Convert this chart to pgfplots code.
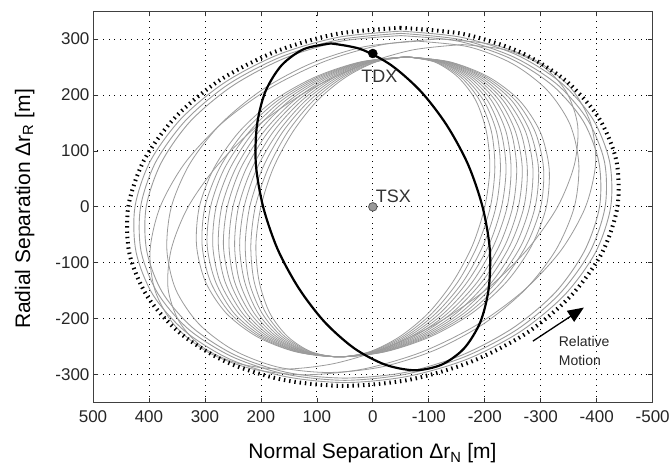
\documentclass[border=0pt]{standalone}
\usepackage{fontspec}
\setmainfont{Liberation Sans}
\usepackage{pgfplots}
\pgfplotsset{compat=1.18}
\usetikzlibrary{arrows.meta}
\definecolor{orbgray}{RGB}{155,155,155}
\begin{document}
\begin{tikzpicture}
\useasboundingbox (0,0) rectangle (669pt,468pt);
\begin{axis}[
  at={(93pt,65.3pt)}, anchor=south west,
  scale only axis, width=559.7pt, height=391.7pt,
  x dir=reverse,
  xmin=-500, xmax=500, ymin=-350, ymax=350,
  xtick={-500,-400,...,500}, ytick={-300,-200,...,300},
  grid=major,
  major grid style={black, line width=0.8pt, dash pattern=on 0.9pt off 4.7pt},
  tick align=inside, major tick length=5pt,
  tick style={black!80, line width=0.7pt},
  axis line style={black!75, line width=0.9pt},
  /pgf/number format/assume math mode=true,
  tick label style={font=\fontsize{17}{17}\selectfont, text=black!85},
  xticklabel style={yshift=-4pt},
]
% inner orbits (relative inclination drifting)
\addplot[orbgray, line width=0.8pt, smooth] coordinates {(-60,268)(-6,259)(48,232)(99,190)(143,134)(178,69)(200,0)(209,-69)(203,-134)(184,-190)(152,-232)(110,-259)(60,-268)(6,-259)(-48,-232)(-99,-190)(-143,-134)(-178,-69)(-200,0)(-209,69)(-203,134)(-184,190)(-152,232)(-110,259)(-60,268)};
\addplot[orbgray, line width=0.8pt, smooth] coordinates {(-60,268)(-4,259)(53,232)(106,190)(152,134)(187,69)(210,0)(218,-69)(212,-134)(191,-190)(157,-232)(112,-259)(60,-268)(4,-259)(-53,-232)(-106,-190)(-152,-134)(-187,-69)(-210,0)(-218,69)(-212,134)(-191,190)(-157,232)(-112,259)(-60,268)};
\addplot[orbgray, line width=0.8pt, smooth] coordinates {(-60,268)(-1,259)(58,232)(113,190)(161,134)(197,69)(220,0)(228,-69)(221,-134)(198,-190)(162,-232)(115,-259)(60,-268)(1,-259)(-58,-232)(-113,-190)(-161,-134)(-197,-69)(-220,0)(-228,69)(-221,134)(-198,190)(-162,232)(-115,259)(-60,268)};
\addplot[orbgray, line width=0.8pt, smooth] coordinates {(-60,268)(2,259)(63,232)(120,190)(169,134)(207,69)(230,0)(238,-69)(229,-134)(205,-190)(167,-232)(118,-259)(60,-268)(-2,-259)(-63,-232)(-120,-190)(-169,-134)(-207,-69)(-230,0)(-238,69)(-229,134)(-205,190)(-167,232)(-118,259)(-60,268)};
\addplot[orbgray, line width=0.8pt, smooth] coordinates {(-60,268)(4,259)(68,232)(127,190)(178,134)(216,69)(240,0)(247,-69)(238,-134)(212,-190)(172,-232)(120,-259)(60,-268)(-4,-259)(-68,-232)(-127,-190)(-178,-134)(-216,-69)(-240,0)(-247,69)(-238,134)(-212,190)(-172,232)(-120,259)(-60,268)};
\addplot[orbgray, line width=0.8pt, smooth] coordinates {(-60,268)(7,259)(73,232)(134,190)(187,134)(226,69)(250,0)(257,-69)(247,-134)(219,-190)(177,-232)(123,-259)(60,-268)(-7,-259)(-73,-232)(-134,-190)(-187,-134)(-226,-69)(-250,0)(-257,69)(-247,134)(-219,190)(-177,232)(-123,259)(-60,268)};
\addplot[orbgray, line width=0.8pt, smooth] coordinates {(-60,268)(9,259)(78,232)(141,190)(195,134)(236,69)(260,0)(267,-69)(255,-134)(226,-190)(182,-232)(125,-259)(60,-268)(-9,-259)(-78,-232)(-141,-190)(-195,-134)(-236,-69)(-260,0)(-267,69)(-255,134)(-226,190)(-182,232)(-125,259)(-60,268)};
\addplot[orbgray, line width=0.8pt, smooth] coordinates {(-60,268)(12,259)(83,232)(149,190)(204,134)(245,69)(270,0)(276,-69)(264,-134)(233,-190)(187,-232)(128,-259)(60,-268)(-12,-259)(-83,-232)(-149,-190)(-204,-134)(-245,-69)(-270,0)(-276,69)(-264,134)(-233,190)(-187,232)(-128,259)(-60,268)};
\addplot[orbgray, line width=0.8pt, smooth] coordinates {(-60,268)(15,259)(88,232)(156,190)(213,134)(255,69)(280,0)(286,-69)(273,-134)(240,-190)(192,-232)(131,-259)(60,-268)(-15,-259)(-88,-232)(-156,-190)(-213,-134)(-255,-69)(-280,0)(-286,69)(-273,134)(-240,190)(-192,232)(-131,259)(-60,268)};
\addplot[orbgray, line width=0.8pt, smooth] coordinates {(-60,268)(17,259)(93,232)(163,190)(221,134)(265,69)(290,0)(296,-69)(281,-134)(248,-190)(197,-232)(133,-259)(60,-268)(-17,-259)(-93,-232)(-163,-190)(-221,-134)(-265,-69)(-290,0)(-296,69)(-281,134)(-248,190)(-197,232)(-133,259)(-60,268)};
\addplot[orbgray, line width=0.8pt, smooth] coordinates {(-60,268)(20,259)(98,232)(170,190)(230,134)(274,69)(300,0)(305,-69)(290,-134)(255,-190)(202,-232)(136,-259)(60,-268)(-20,-259)(-98,-232)(-170,-190)(-230,-134)(-274,-69)(-300,0)(-305,69)(-290,134)(-255,190)(-202,232)(-136,259)(-60,268)};
\addplot[orbgray, line width=0.8pt, smooth] coordinates {(-60,268)(22,259)(103,232)(177,190)(239,134)(284,69)(310,0)(315,-69)(299,-134)(262,-190)(207,-232)(138,-259)(60,-268)(-22,-259)(-103,-232)(-177,-190)(-239,-134)(-284,-69)(-310,0)(-315,69)(-299,134)(-262,190)(-207,232)(-138,259)(-60,268)};
% intermediate orbits
\addplot[orbgray, line width=0.8pt, smooth] coordinates {(-120,300)(-18,290)(86,260)(184,212)(269,150)(336,78)(380,0)(398,-78)(389,-150)(354,-212)(294,-260)(214,-290)(120,-300)(18,-290)(-86,-260)(-184,-212)(-269,-150)(-336,-78)(-380,0)(-398,78)(-389,150)(-354,212)(-294,260)(-214,290)(-120,300)};
\addplot[orbgray, line width=0.8pt, smooth] coordinates {(-160,290)(-69,280)(26,251)(120,205)(206,145)(277,75)(330,0)(360,-75)(366,-145)(346,-205)(304,-251)(240,-280)(160,-290)(69,-280)(-26,-251)(-120,-205)(-206,-145)(-277,-75)(-330,0)(-360,75)(-366,145)(-346,205)(-304,251)(-240,280)(-160,290)};
\addplot[orbgray, line width=0.8pt, smooth] coordinates {(-80,296)(16,286)(111,256)(198,209)(272,148)(327,77)(360,0)(368,-77)(352,-148)(311,-209)(249,-256)(171,-286)(80,-296)(-16,-286)(-111,-256)(-198,-209)(-272,-148)(-327,-77)(-360,0)(-368,77)(-352,148)(-311,209)(-249,256)(-171,286)(-80,296)};
% outer orbits
\addplot[orbgray, line width=0.9pt, smooth] coordinates {(-50,314)(62,303)(169,272)(265,222)(343,157)(398,81)(425,0)(423,-81)(393,-157)(336,-222)(256,-272)(158,-303)(50,-314)(-62,-303)(-169,-272)(-265,-222)(-343,-157)(-398,-81)(-425,0)(-423,81)(-393,157)(-336,222)(-256,272)(-158,303)(-50,314)};
\addplot[orbgray, line width=0.9pt, smooth] coordinates {(-50,310)(59,299)(164,268)(258,219)(334,155)(388,80)(415,0)(414,-80)(384,-155)(329,-219)(251,-268)(156,-299)(50,-310)(-59,-299)(-164,-268)(-258,-219)(-334,-155)(-388,-80)(-415,0)(-414,80)(-384,155)(-329,219)(-251,268)(-156,299)(-50,310)};
\addplot[orbgray, line width=0.9pt, smooth] coordinates {(-50,306)(57,296)(159,265)(251,216)(326,153)(378,79)(405,0)(404,-79)(376,-153)(322,-216)(246,-265)(153,-296)(50,-306)(-57,-296)(-159,-265)(-251,-216)(-326,-153)(-378,-79)(-405,0)(-404,79)(-376,153)(-322,216)(-246,265)(-153,296)(-50,306)};
% dotted envelope
\addplot[black, line width=4pt, dash pattern=on 1.4pt off 3.9pt, smooth] coordinates {(-50,320)(65,309)(175,277)(274,226)(353,160)(409,83)(437,0)(435,-83)(403,-160)(344,-226)(262,-277)(161,-309)(50,-320)(-65,-309)(-175,-277)(-274,-226)(-353,-160)(-409,-83)(-437,0)(-435,83)(-403,160)(-344,226)(-262,277)(-161,309)(-50,320)};
% TDX orbit
\addplot[black, line width=2.2pt, smooth] coordinates {(75,292)(123,282)(163,253)(192,206)(207,146)(209,76)(196,0)(170,-76)(132,-146)(86,-206)(33,-253)(-22,-282)(-75,-292)(-123,-282)(-163,-253)(-192,-206)(-207,-146)(-209,-76)(-196,0)(-170,76)(-132,146)(-86,206)(-33,253)(22,282)(75,292)};
\addplot[only marks, mark=*, mark size=4.5pt, black] coordinates {(0,274)};
\addplot[only marks, mark=*, mark size=4.3pt, draw=black!65, fill=black!40, line width=0.8pt] coordinates {(0,0)};
\node[anchor=west, inner sep=0pt, font=\fontsize{18}{18}\selectfont, text=black!80] at (axis cs:21,233) {TDX};
\node[anchor=west, inner sep=0pt, font=\fontsize{18}{18}\selectfont, text=black!80] at (axis cs:-5,18) {TSX};
\draw[black, line width=1.3pt, -{Triangle[length=16pt,width=13pt]}] (axis cs:-286,-240) -- (axis cs:-377,-180);
\node[anchor=west, align=left, inner sep=0pt, font=\fontsize{14}{19}\selectfont, text=black!85] at (axis cs:-332,-258) {Relative\\Motion};
\end{axis}
\node[anchor=base, font=\fontsize{21}{21}\selectfont] at (372.5pt,9pt) {Normal Separation Δr\textsubscript{N} [m]};
\node[rotate=90, anchor=base, font=\fontsize{21}{21}\selectfont] at (30pt,259pt) {Radial Separation Δr\textsubscript{R} [m]};
\end{tikzpicture}
\end{document}
